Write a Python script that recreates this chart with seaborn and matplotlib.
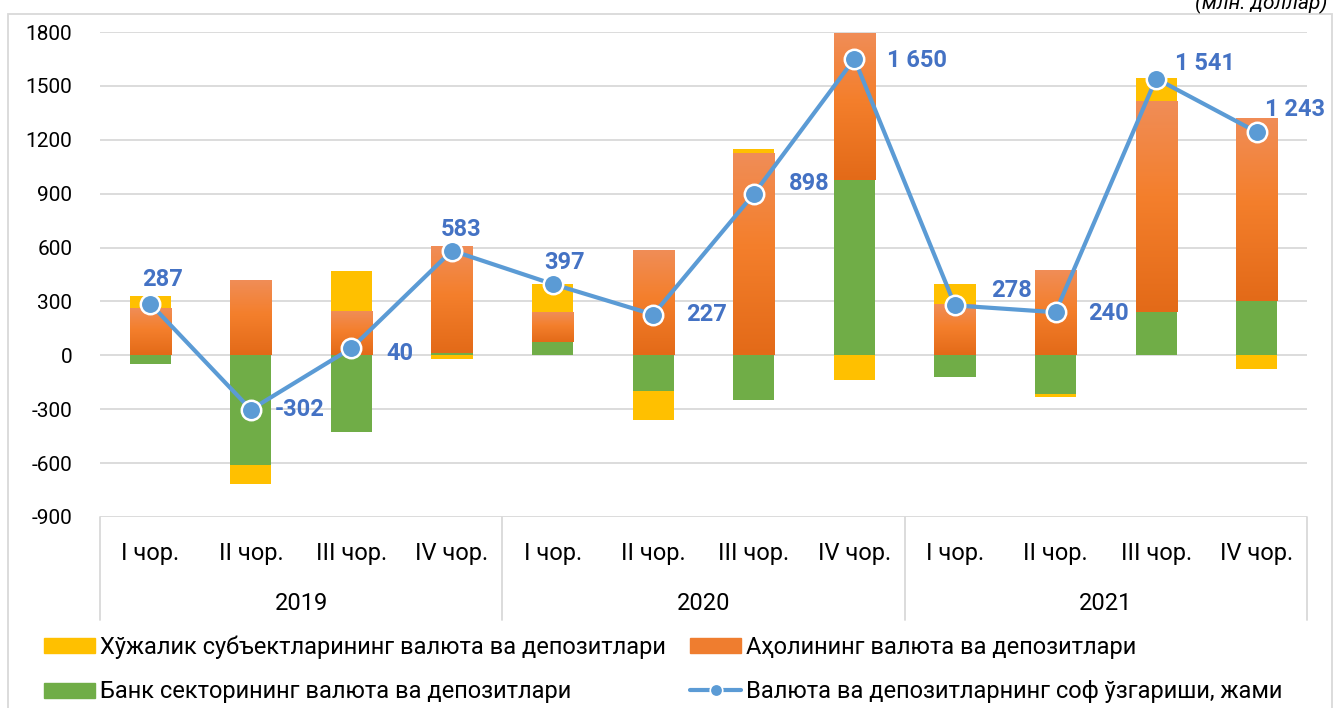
import numpy as np
import matplotlib
matplotlib.use("Agg")
import matplotlib.pyplot as plt
import matplotlib.patches as mpatches
from matplotlib.lines import Line2D
from matplotlib.colors import LinearSegmentedColormap
import matplotlib.transforms as mtransforms
import seaborn as sns

# ---------------- data ----------------
years = ["2019", "2020", "2021"]
quarters = ["I чор.", "II чор.", "III чор.", "IV чор."]
business = [69, -104, 227, -20, 154, -160, 28, -136, 116, -15, 128, -74]        # yellow
population = [261, 413, 242, 592, 166, 580, 1119, 813, 280, 469, 1172, 1018]   # orange
bank = [-47, -610, -425, 15, 76, -198, -247, 975, -121, -215, 242, 302]        # green
total = [287, -302, 40, 583, 397, 227, 898, 1650, 278, 240, 1541, 1243]        # line

series_names = [
    "Хўжалик субъектларининг валюта ва депозитлари",
    "Аҳолининг валюта ва депозитлари",
    "Банк секторининг валюта ва депозитлари",
    "Валюта ва депозитларнинг соф ўзгариши, жами",
]
y_ticks = [-900, -600, -300, 0, 300, 600, 900, 1200, 1500, 1800]
unit_label = "(млн. доллар)"

# label placement (pixel offsets from marker: left edge dx, dy up)
label_offsets = [(-8, 24), (24, 0), (35, -5), (-11, 21), (-8, 22), (33, 0),
                 (35, 11), (33, -2), (36, 15), (33, -1), (19, 15), (8, 23)]

# ---------------- style ----------------
sns.set_theme(style="white")
plt.rcParams["font.family"] = ["Roboto", "Noto Sans", "DejaVu Sans"]

YELLOW = "#FFC000"
GREEN = "#70AD47"
ORANGE = "#EF7D2F"
LINE = "#5B9BD5"
LABEL = "#4472C4"
GRID = "#D9D9D9"
TXT = "#000000"
FS_TICK = 15
FS = 17

W, H = 1333, 708
fig = plt.figure(figsize=(W / 100, H / 100), dpi=100)
fig.patch.set_facecolor("white")

ax_l, ax_r, ax_t, ax_b = 100, 1307, 32, 517
ax = fig.add_axes([ax_l / W, 1 - ax_b / H, (ax_r - ax_l) / W, (ax_b - ax_t) / H])

n = len(total)
x = np.arange(n)
bw = 0.41

# stacked bars (green, orange, yellow order for stacking)
pos_bottom = np.zeros(n)
neg_bottom = np.zeros(n)
orange_cmap = LinearSegmentedColormap.from_list(
    "og", [(0.0, "#E36A18"), (0.55, "#F47F2C"), (1.0, "#F08D57")])
grad = np.linspace(0, 1, 256).reshape(-1, 1)

for vals, col, kind in [(bank, GREEN, "g"), (population, ORANGE, "o"), (business, YELLOW, "y")]:
    v = np.array(vals, dtype=float)
    bottoms = np.where(v >= 0, pos_bottom, neg_bottom)
    ax.bar(x, v, bw, bottom=bottoms, color=col, linewidth=0, zorder=2)
    if kind == "o":
        for xi, b, h in zip(x, bottoms, v):
            y0, y1 = (b, b + h) if h >= 0 else (b + h, b)
            ax.imshow(grad, extent=[xi - bw / 2, xi + bw / 2, y0, y1], origin="lower",
                      cmap=orange_cmap, aspect="auto", zorder=2.1, interpolation="bicubic")
    pos_bottom = pos_bottom + np.where(v >= 0, v, 0)
    neg_bottom = neg_bottom + np.where(v < 0, v, 0)

# line
sns.lineplot(x=x, y=total, ax=ax, color=LINE, linewidth=3.0, marker="o",
             markersize=14, markerfacecolor=LINE, markeredgecolor="white",
             markeredgewidth=1.8, zorder=4, legend=False)

# data labels
for xi, v, (dx, dy) in zip(x, total, label_offsets):
    txt = f"{v:,}".replace(",", " ")
    ax.annotate(txt, (xi, v), xytext=(dx * 0.72, dy * 0.72), textcoords="offset points",
                ha="left", va="center", color=LABEL, fontsize=17, fontweight="bold", zorder=5)

# axes formatting
ax.set_xlim(-0.5, n - 0.5)
ax.set_ylim(-900, 1800)
ax.set_yticks(y_ticks)
ax.set_yticklabels([str(t) for t in y_ticks], fontsize=FS_TICK, color=TXT)
ax.yaxis.grid(True, color=GRID, linewidth=1.3, zorder=0)
ax.set_axisbelow(True)
ax.tick_params(axis="y", length=0, pad=20)
ax.set_xticks(x)
ax.set_xticklabels(quarters * len(years), fontsize=FS, color=TXT)
ax.tick_params(axis="x", length=0, pad=18)
for s in ax.spines.values():
    s.set_visible(False)
ax.set_xlabel("")
ax.set_ylabel("")

trans = mtransforms.blended_transform_factory(ax.transData, ax.transAxes)
ax_h = ax_b - ax_t
for i, yr in enumerate(years):
    ax.text(i * 4 + 1.5, -(603 - ax_b) / ax_h, yr, transform=trans, ha="center", va="center",
            fontsize=FS, color=TXT)
for sx in [-0.5, 3.5, 7.5, 11.5]:
    ax.add_line(Line2D([sx, sx], [0, -(620 - ax_b) / ax_h], transform=trans, color=GRID,
                       linewidth=1.3, clip_on=False))

# outer frame
fig.add_artist(mpatches.Rectangle((8 / W, -0.05), (1332 - 8) / W, 1 - 14 / H + 0.05,
                                  transform=fig.transFigure, fill=False, edgecolor=GRID,
                                  linewidth=1.3, clip_on=False))

# unit label (partially cut at top like the reference)
fig.text(1327 / W, 1 - 9 / H, unit_label, ha="right", va="baseline", fontsize=FS_TICK,
         style="italic", color=TXT)

# legends
h_y = mpatches.Patch(color=YELLOW)
h_o = mpatches.Patch(color=ORANGE)
h_g = mpatches.Patch(color=GREEN)
h_l = Line2D([], [], color=LINE, linewidth=3.0, marker="o", markersize=9,
             markerfacecolor=LINE, markeredgecolor="white", markeredgewidth=1.2)
leg_kw = dict(frameon=False, fontsize=FS, handlelength=2.16, handleheight=0.6,
              handletextpad=0.22, labelspacing=0.9, borderpad=0, borderaxespad=0,
              loc="center left", labelcolor=TXT)
leg1 = fig.legend([h_y, h_g], [series_names[0], series_names[2]],
                  bbox_to_anchor=(44 / W, 1 - 669.5 / H), **leg_kw)
leg2 = fig.legend([h_o, h_l], [series_names[1], series_names[3]],
                  bbox_to_anchor=(690 / W, 1 - 669.5 / H), **leg_kw)

fig.savefig("out.png", dpi=100)
